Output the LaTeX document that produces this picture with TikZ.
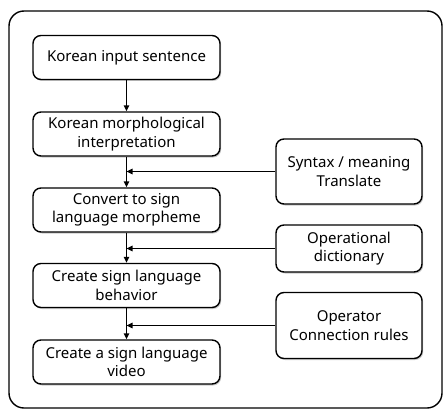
\documentclass[tikz,border=0pt]{standalone}
\usepackage{fontspec}
\setmainfont{Noto Sans}
\usetikzlibrary{arrows.meta,shadows}
\begin{document}
\begin{tikzpicture}[x=1pt,y=-1pt,
  box/.style={draw=black,line width=1.4pt,rounded corners=8pt,fill=white,
    align=center,inner sep=0pt,font=\fontsize{15}{18.5}\selectfont,
    drop shadow={shadow xshift=1.2pt,shadow yshift=-1.5pt,opacity=0.35,fill=black!60}},
  lbox/.style={box,minimum width=187pt,minimum height=44pt},
  rbox/.style={box,minimum width=146pt},
  arr/.style={line width=1.4pt,-{Triangle[length=6pt,width=5.5pt]}}]
\useasboundingbox (0,0) rectangle (443,409);
\draw[line width=1.4pt,rounded corners=15pt] (9,11) rectangle (442,408);
\node[lbox] (b1) at (126.5,57.5) {Korean input sentence};
\node[lbox] (b2) at (126.5,134) {Korean morphological\\interpretation};
\node[lbox] (b3) at (126.5,210) {Convert to sign\\language morpheme};
\node[lbox] (b4) at (126.5,285.5) {Create sign language\\behavior};
\node[lbox] (b5) at (126.5,362) {Create a sign language\\video};
\node[rbox,minimum height=65pt] (r1) at (349,171.5) {Syntax / meaning\\Translate};
\node[rbox,minimum height=47pt] (r2) at (349,248.5) {Operational\\dictionary};
\node[rbox,minimum height=66pt] (r3) at (349,325.5) {Operator\\Connection rules};
\draw[arr] (b1) -- (b2);
\draw[arr] (b2) -- (b3);
\draw[arr] (b3) -- (b4);
\draw[arr] (b4) -- (b5);
\draw[arr] (r1.west) -- (r1.west -| b2.south);
\draw[arr] (r2.west) -- (r2.west -| b3.south);
\draw[arr] (r3.west) -- (r3.west -| b4.south);
\end{tikzpicture}
\end{document}
